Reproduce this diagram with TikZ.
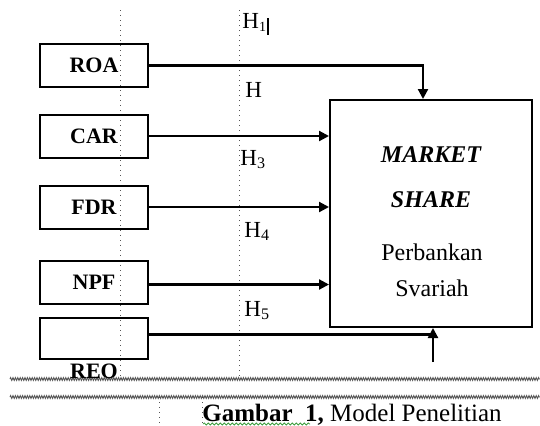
\documentclass[tikz,border=0pt]{standalone}
\usepackage{fontspec}
\setmainfont{Liberation Serif}
\usetikzlibrary{arrows.meta,decorations.pathmorphing}
\definecolor{word-gray}{HTML}{555555}
\definecolor{word-green}{HTML}{3F9E3F}

\tikzset{
    varbox/.style={draw, line width=1pt, minimum width=54pt, minimum height=21.5pt, inner sep=0pt, font=\fontsize{11}{13}\selectfont\bfseries},
    hlabel/.style={anchor=base west, inner sep=0pt, font=\fontsize{11.5}{13}\selectfont},
    msline/.style={anchor=base, inner sep=0pt, font=\fontsize{12}{14}\selectfont},
    link/.style={line width=1.1pt},
    arr/.style={link, -{Triangle[length=5pt,width=5pt]}},
    guide/.style={word-gray, line width=0.5pt, dotted},
    brk/.style={word-gray, line width=0.45pt, decorate, decoration={zigzag, segment length=1.2pt, amplitude=0.7pt}}
}

\begin{document}
\begin{tikzpicture}[x=0.5pt, y=-0.5pt]

    % Page
    \useasboundingbox (0, 0) rectangle (540, 425);
    \clip (0, 0) rectangle (540, 425);

    % Guides
    \draw[guide] (120, 10) -- (120, 379);
    \draw[guide] (239, 10) -- (239, 379);
    \draw[guide] (159, 397) -- (159, 425);
    \draw[guide] (202, 397) -- (202, 425);

    % Section breaks
    \draw[brk] (10, 379) -- (540, 379);
    \draw[brk] (10, 397) -- (540, 397);

    % Variables
    \node[varbox] (roa) at (94, 65.5) {ROA};
    \node[varbox] (car) at (94, 136) {CAR};
    \node[varbox] (fdr) at (94, 207) {FDR};
    \node[varbox] (npf) at (94, 282.5) {NPF};
    \node[varbox, minimum height=20.5pt] (reo) at (94, 338.5) {};
    \node[anchor=base, inner sep=0pt, font=\fontsize{11}{13}\selectfont\bfseries] (reolabel) at (94, 378) {REO};

    % Market share
    \node[draw, line width=1pt, minimum width=101pt, minimum height=113.5pt, inner sep=0pt] (ms) at (431, 213.5) {};
    \node[msline, font=\fontsize{12}{14}\selectfont\bfseries\itshape] (ms1) at (431, 162) {MARKET};
    \node[msline, font=\fontsize{12}{14}\selectfont\bfseries\itshape] (ms2) at (431, 207) {SHARE};
    \node[msline] (ms3) at (432, 260) {Perbankan};
    \node[msline] (ms4) at (432, 296) {Svariah};

    % Hypotheses
    \node[hlabel] (h1) at (242, 28) {H\textsubscript{\scriptsize 1}};
    \node[hlabel] (h2) at (245, 97) {H};
    \node[hlabel] (h3) at (240, 165) {H\textsubscript{3}};
    \node[hlabel] (h4) at (244, 237) {H\textsubscript{4}};
    \node[hlabel] (h5) at (244, 316) {H\textsubscript{5}};
    \draw[line width=1pt] (268, 18) -- (268, 35);

    % Arrows
    \draw[arr] (roa.east) -| ([xshift=-4pt]ms.north);
    \draw[arr] (car.east) -- (car.east -| ms.west);
    \draw[arr] (fdr.east) -- (fdr.east -| ms.west);
    \draw[arr] ([yshift=-1pt]npf.east) -- ([yshift=-1pt]npf.east -| ms.west);
    \coordinate (reobase) at (433, 362);
    \draw[link] ([yshift=2pt]reo.east) -- ([yshift=2pt]reo.east -| reobase);
    \draw[arr] (reobase) -- (reobase |- ms.south);

    % Caption
    \node[anchor=base west, inner sep=0pt, font=\fontsize{12.5}{15}\selectfont] (cap) at (202, 421) {\textbf{Gambar}\ \ \textbf{1,} Model Penelitian};
    \draw[word-green, line width=0.4pt, decorate, decoration={snake, segment length=2pt, amplitude=0.5pt}] (203, 424) -- (310, 424);

\end{tikzpicture}
\end{document}
